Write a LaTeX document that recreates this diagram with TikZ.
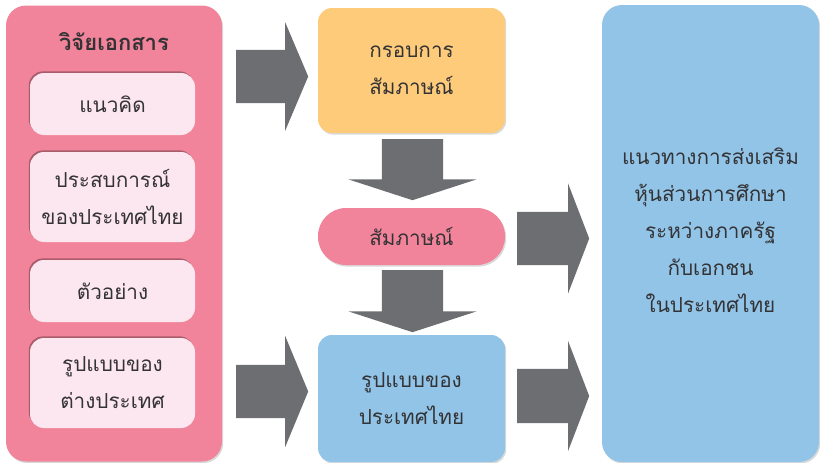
\documentclass[tikz,border=0pt]{standalone}
\usepackage{fontspec}
\newfontfamily\thaifont[Script=Thai]{Loma}
\usetikzlibrary{positioning, shapes.arrows, shadows}
\definecolor{pp_Pink}{HTML}{F1849A}
\definecolor{pp_PinkLight}{HTML}{FCE6EF}
\definecolor{pp_Yellow}{HTML}{FDCB7A}
\definecolor{pp_Blue}{HTML}{92C4E8}
\definecolor{pp_Gray}{HTML}{6D6E71}
\definecolor{pp_Text}{HTML}{333335}
\tikzstyle{pp_box}=[rounded corners=14pt, inner sep=0pt, align=center, text=pp_Text, font=\thaifont\fontsize{20.7}{37}\selectfont]

\begin{document}
\begin{tikzpicture}[x=1pt, y=-1pt]
			\tikzset{raised/.style = {pp_box, drop shadow={shadow xshift=1.2pt, shadow yshift=-1.6pt, opacity=.3}}}
			\tikzset{sunken/.style = {pp_box, fill=pp_PinkLight, minimum width=165pt, general shadow={fill=black!30!pp_Pink, shadow xshift=-1.2pt, shadow yshift=1.6pt}}}
			\tikzset{bigarrow/.style = {single arrow, fill=pp_Gray, inner xsep=0pt, minimum height=72pt, anchor=tail}}
			\useasboundingbox (0,0) rectangle (820,463);

			% boxes
			\node[raised, fill=pp_Pink, rounded corners=20pt, minimum width=216pt, minimum height=456pt] (docs) at (114,233.5) {};
			\node[pp_box, font=\thaifont\bfseries\fontsize{22}{26}\selectfont] (docs_title) at (114,42) {วิจัยเอกสาร};
			\node[sunken, minimum height=62pt] (concept) at (112.5,104) {แนวคิด};
			\node[sunken, minimum height=90pt] (experience) at (112.5,197) {ประสบการณ์\\ของประเทศไทย};
			\node[sunken, minimum height=62pt] (example) at (112.5,291) {ตัวอย่าง};
			\node[sunken, minimum height=90pt] (foreign) at (112.5,383) {รูปแบบของ\\ต่างประเทศ};

			\node[raised, fill=pp_Yellow, minimum width=187pt, minimum height=125pt] (frame) at (411.5,70.5) {กรอบการ\\สัมภาษณ์};
			\node[raised, fill=pp_Pink, rounded corners=28pt, minimum width=187pt, minimum height=57pt] (interview) at (411.5,236.5) {สัมภาษณ์};
			\node[raised, fill=pp_Blue, minimum width=187pt, minimum height=127pt] (thai_model) at (411.5,398.5) {รูปแบบของ\\ประเทศไทย};
			\node[raised, fill=pp_Blue, rounded corners=20pt, minimum width=217pt, minimum height=457pt] (result) at (710.5,233.5) {};
			\node[pp_box] (result_text) at ([yshift=3pt]result.center) {แนวทางการส่งเสริม\\หุ้นส่วนการศึกษา\\ระหว่างภาครัฐ\\กับเอกชน\\ในประเทศไทย};

			% arrows
			\node[bigarrow, inner ysep=26.5pt, single arrow head extend=27.5pt, single arrow tip angle=134] (a_frame) at (236,76.5) {};
			\node[bigarrow, inner ysep=26.5pt, single arrow head extend=29pt, single arrow tip angle=135] (a_model) at (236,391.5) {};
			\node[bigarrow, inner ysep=30.5pt, minimum height=61pt, single arrow head extend=33.5pt, single arrow tip angle=144, rotate=-90] (a_down1) at (412.5,139) {};
			\node[bigarrow, inner ysep=30.5pt, minimum height=62pt, single arrow head extend=33.5pt, single arrow tip angle=144, rotate=-90] (a_down2) at (412.5,270) {};
			\node[bigarrow, inner ysep=26.5pt, single arrow head extend=28.5pt, single arrow tip angle=138] (a_int) at (517,238.5) {};
			\node[bigarrow, inner ysep=27pt, single arrow head extend=28pt, single arrow tip angle=138] (a_res) at (517,396) {};
\end{tikzpicture}
\end{document}
